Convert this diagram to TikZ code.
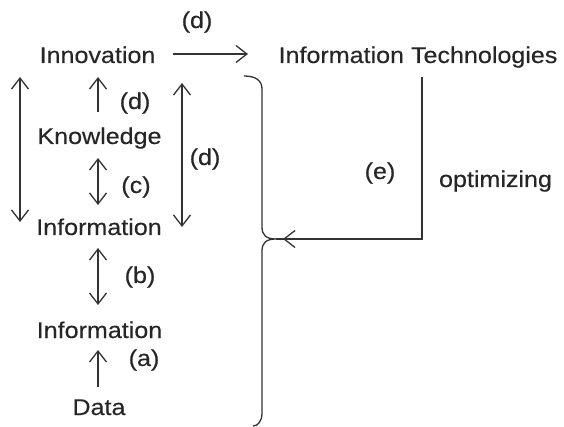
\documentclass[tikz,border=0pt]{standalone}
\usepackage{fontspec}
\setmainfont{Liberation Sans}[FakeStretch=1.1,FakeBold=0.35]
\usetikzlibrary{arrows.meta}
\definecolor{ink}{HTML}{262626}
\definecolor{lineink}{HTML}{333333}
\begin{document}
\begin{tikzpicture}[x=1pt,y=-1pt,
  lbl/.style={font=\fontsize{22.8}{26}\selectfont, text=ink, inner sep=0pt, anchor=base},
  conn/.style={draw=lineink, line width=1.3pt},
  uparr/.style={conn, -{Straight Barb[length=11pt,width=17pt]}},
  dblarr/.style={conn, {Straight Barb[length=11pt,width=17pt]}-{Straight Barb[length=11pt,width=17pt]}}]
\useasboundingbox (0,0) rectangle (564,427);
% texts
\node[lbl] (innov) at (97.5,63) {Innovation};
\node[lbl] (it) at (418,63) {Information Technologies};
\node[lbl] (know) at (99.5,144) {Knowledge};
\node[lbl] (info1) at (99,235) {Information};
\node[lbl] (info2) at (99.5,338) {Information};
\node[lbl] (data) at (99,415) {Data};
\node[lbl] (ldtop) at (197,28) {(d)};
\node[lbl] (ldk) at (135,109) {(d)};
\node[lbl] (lc) at (136,193) {(c)};
\node[lbl] (ldr) at (205,165) {(d)};
\node[lbl] (lb) at (140,283) {(b)};
\node[lbl] (la) at (144,366) {(a)};
\node[lbl] (le) at (380,179) {(e)};
\node[lbl] (opt) at (495.5,187) {optimizing};
% connector end points
\coordinate (innovE) at (173,54);
\coordinate (itW) at (248,54);
\coordinate (lt) at (20,77);
\coordinate (lb2) at (20,222);
\coordinate (rt) at (182,83);
\coordinate (rb) at (182,227);
\coordinate (k1b) at (98,112);
\coordinate (k1t) at (98,77);
\coordinate (c1t) at (98,158);
\coordinate (c1b) at (98,205);
\coordinate (b1t) at (98,248);
\coordinate (b1b) at (98,305);
\coordinate (a1b) at (98,387);
\coordinate (a1t) at (98,350);
\coordinate (itS) at (422,77);
\coordinate (corner) at (422,239);
\coordinate (cusp) at (276,239);
\coordinate (tipstart) at (300,239);
\coordinate (tip) at (283,239);
\coordinate (bracetop) at (244,76);
\coordinate (bracebot) at (253,426);
% arrows
\draw[uparr] (innovE) -- (itW);
\draw[dblarr] (lt) -- (lb2);
\draw[dblarr] (rt) -- (rb);
\draw[uparr] (k1b) -- (k1t);
\draw[dblarr] (c1t) -- (c1b);
\draw[dblarr] (b1t) -- (b1b);
\draw[uparr] (a1b) -- (a1t);
% feedback line
\draw[conn, line join=miter] (itS) -- (corner) -- (cusp);
\draw[uparr] (tipstart) -- (tip);
% brace
\draw[conn] (bracetop) .. controls (255,76) and (262,80) .. (262,89)
  -- (262,227) .. controls (262,235) and (266,239) .. (cusp)
  .. controls (266,239) and (262,243) .. (262,251)
  -- (262,413) .. controls (262,421) and (258,426) .. (bracebot);
\end{tikzpicture}
\end{document}
